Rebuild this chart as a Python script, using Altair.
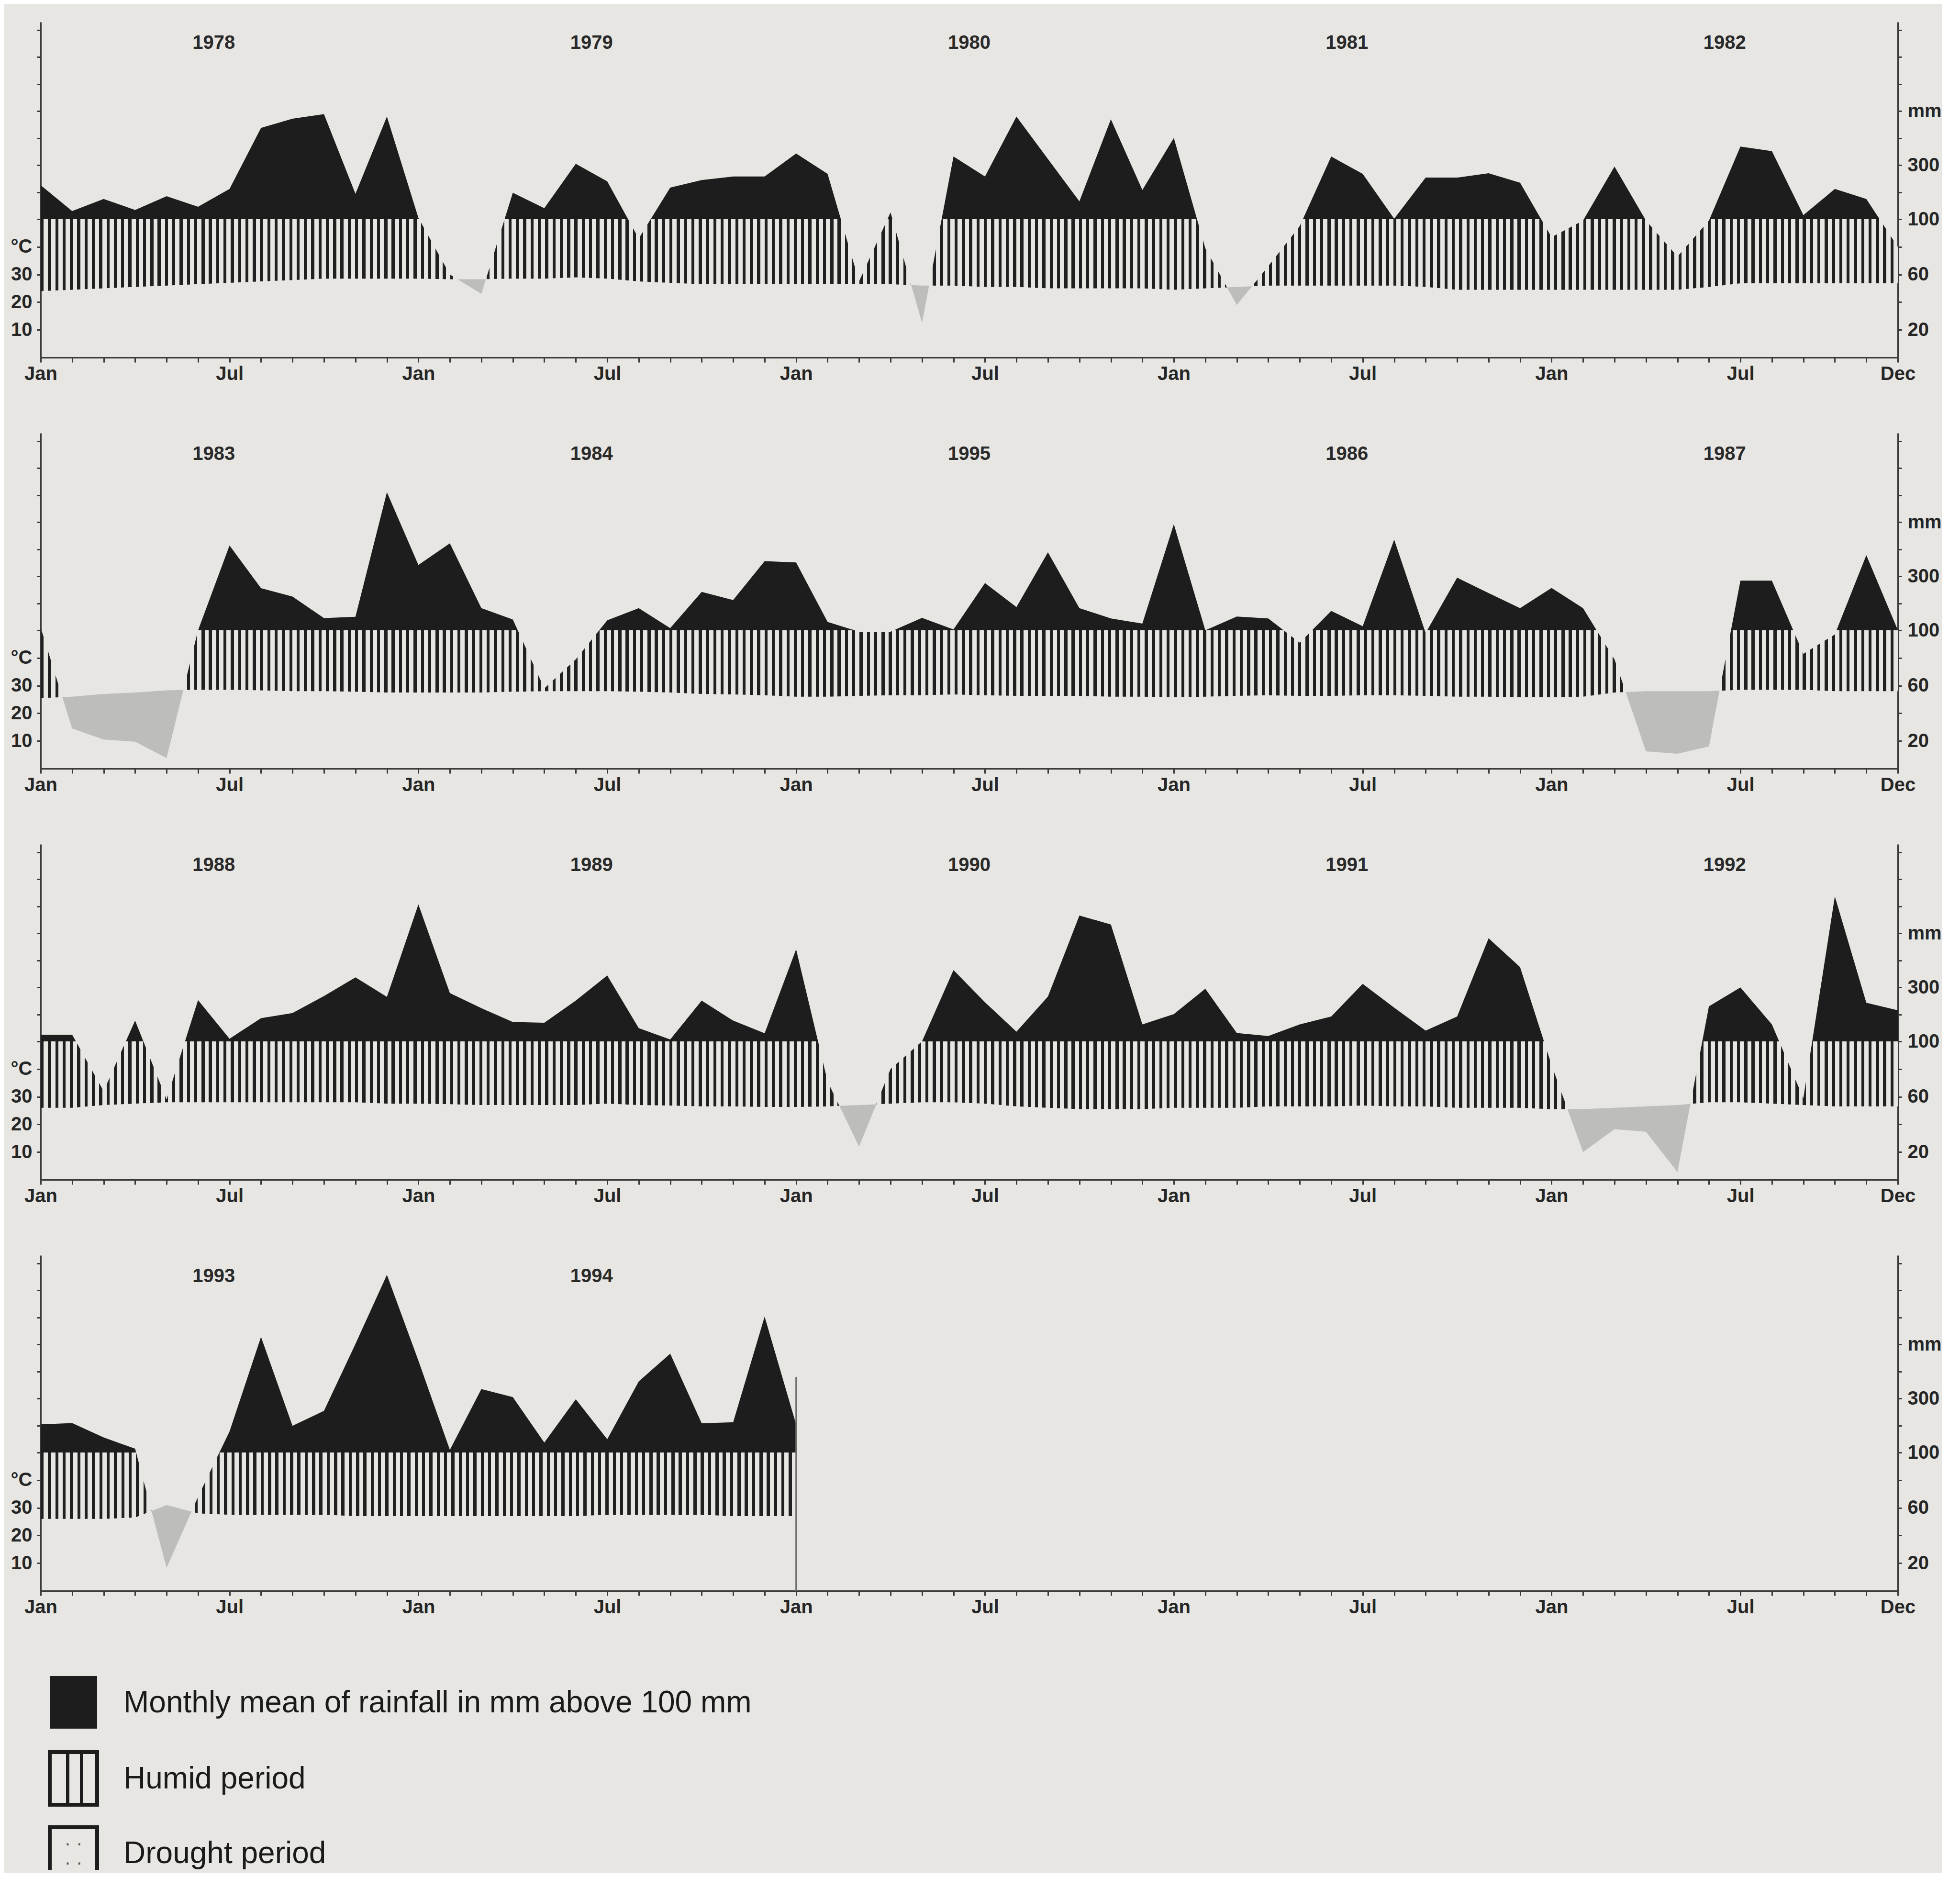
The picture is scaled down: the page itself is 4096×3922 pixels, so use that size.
import altair as alt
import pandas as pd

# ---------------- data ----------------
# monthly rainfall (mm) and monthly mean temperature (deg C), one list per 5-year panel
RAIN_1 = [226, 130, 175, 134, 185, 146, 212, 438, 472, 489, 194, 480,
          105, 60, 46, 198, 141, 305, 240, 86, 217, 245, 258, 258,
          343, 268, 55, 125, 25, 332, 258, 480, 323, 166, 470, 208,
          401, 79, 38, 66, 95, 332, 268, 102, 254, 254, 270, 235,
          87, 99, 295, 99, 73, 99, 369, 352, 115, 212, 175, 80]
TEMP_1 = [24, 24.5, 25, 25.5, 26, 26.5, 27, 27.5, 28, 28.5, 28.5, 28.5,
          28.5, 28.3, 28.3, 28.5, 28.5, 29, 28.5, 27.5, 27, 26.5, 26.5, 26.5,
          26.5, 26.5, 26.5, 26.5, 26, 26, 25.5, 25.5, 25, 25, 25, 25,
          24.5, 25, 25.5, 26, 26, 26, 26, 26, 25.5, 24.5, 24.5, 24.5,
          24.5, 24.5, 24.5, 24.5, 24.5, 25.5, 26.8, 26.8, 26.8, 26.8, 26.8, 26.8]

RAIN_2 = [110, 29, 21, 19.5, 7.6, 100, 414, 256, 225, 145, 150, 611,
          342, 422, 182, 140, 58, 79, 137, 182, 108, 242, 212, 356,
          351, 131, 99, 99, 146, 103, 275, 186, 389, 182, 144, 125,
          493, 100, 151, 144, 91, 172, 115, 436, 98, 295, 238, 182,
          257, 182, 79, 12.5, 10.7, 16, 284, 284, 83, 97, 378, 101]
TEMP_2 = [25.5, 26, 27, 27.5, 28.3, 28.5, 28.5, 28.3, 28, 28, 27.8, 27.5,
          27.5, 27.5, 27.5, 27.8, 28, 28, 28, 27.8, 27.5, 27, 26.8, 26.5,
          26, 26, 26.3, 26.5, 26.5, 26.8, 26.5, 26.3, 26.3, 26.3, 26, 26,
          25.8, 26, 26.3, 26.5, 26.3, 26.3, 26.5, 26.5, 26.3, 26, 26, 25.8,
          25.8, 26, 27.5, 28, 28, 28, 28.5, 28.5, 28.5, 28, 28, 28]

RAIN_3 = [125, 125, 64, 177, 58, 253, 110, 186, 205, 268, 337, 265,
          607, 279, 223, 172, 169, 251, 344, 149, 107, 251, 177, 130,
          441, 71, 24, 80, 100, 364, 245, 136, 266, 566, 533, 163,
          201, 295, 131, 120, 163, 192, 313, 225, 140, 192, 482, 375,
          83, 20, 36.5, 34.7, 5.5, 230, 300, 163, 59, 637, 243, 215]
TEMP_3 = [26, 26, 27, 27.5, 28, 28, 28, 28, 28, 28, 28, 27.5,
          27.5, 27.3, 27, 27, 27, 27, 27.5, 27, 26.8, 26.5, 26.5, 26.3,
          26.3, 26.5, 27, 27.5, 28, 28, 27.5, 26.5, 26, 25.5, 25.5, 25.5,
          26, 26, 26, 26.5, 26.5, 26.5, 26.8, 26.5, 26.5, 26, 26, 26,
          25.5, 25.5, 26, 26.5, 27, 28, 28, 27.5, 27, 26.5, 26.5, 26.5]

RAIN_4 = [204, 209, 156, 114, 16.5, 68, 178, 528, 199, 254, 502, 758,
          440, 110, 335, 305, 137, 297, 149, 363, 466, 208, 212, 603, 204]
TEMP_4 = [26, 26, 26, 26.5, 31, 28, 27.5, 27.5, 27.5, 27.5, 27, 27,
          27, 27, 27, 27, 27, 27, 27.5, 27.5, 27.5, 27.5, 27, 27, 27]

YEARS_1 = ["1978", "1979", "1980", "1981", "1982"]
YEARS_2 = ["1983", "1984", "1995", "1986", "1987"]
YEARS_3 = ["1988", "1989", "1990", "1991", "1992"]
YEARS_4 = ["1993", "1994"]

# end-of-record marker in the last panel: month index, from mm, to mm
END_MONTH = [24]
END_FROM_MM = [0]
END_TO_MM = [380]

LEGEND_LABELS = ["Monthly mean of rainfall in mm above 100 mm", "Humid period", "Drought period"]

# ---------------- styling / layout ----------------
PAPER = "#e7e6e2"
INK = "#1d1d1d"
DROUGHT = "#bdbdba"
FONT = "Liberation Sans"
W, H = 3881, 701
K = 5.12          # rainfall above 100 mm is compressed by this factor
TOP_MM = 830
STRIPES_PER_MONTH = 4.3
STRIPE_FRAC = 0.42


def disp(r):
    return r if r <= 100 else 100 + (r - 100) / K


def undisp(v):
    return v if v <= 100 else 100 + (v - 100) * K


TOPD = disp(TOP_MM)
yscale = alt.Scale(domain=[0, 100, TOP_MM], range=[H, H - H * 100 / TOPD, 0], nice=False, zero=False)
xscale = alt.Scale(domain=[0, 59], nice=False, zero=False)

TICKS = [20, 40, 60, 80, 100, 200, 300, 400, 500, 600, 700, 800]
left_axis = alt.Axis(orient="left", values=TICKS, title=None, grid=False, tickSize=8, labelPadding=10,
                     labelOverlap=False,
                     labelExpr="datum.value == 80 ? '°C' : (datum.value <= 60 ? '' + (datum.value / 2) : '')")
right_axis = alt.Axis(orient="right", values=TICKS, title=None, grid=False, tickSize=8, labelPadding=12,
                      labelOverlap=False,
                      labelExpr="datum.value == 500 ? 'mm' : (indexof([20, 60, 100, 300], datum.value) >= 0 ? '' + datum.value : '')")
x_axis = alt.Axis(values=list(range(60)), title=None, grid=False, tickSize=10, labelPadding=4,
                  labelFlush=False, labelOverlap=False,
                  labelExpr="datum.value == 59 ? 'Dec' : (datum.value % 12 == 0 ? 'Jan' : (datum.value % 6 == 0 ? 'Jul' : ''))")


def stripes(n, frac, dark, light):
    stops = []
    for k in range(n):
        a = k / n
        b = (k + frac) / n
        stops += [alt.GradientStop(color=light, offset=a), alt.GradientStop(color=dark, offset=a),
                  alt.GradientStop(color=dark, offset=b), alt.GradientStop(color=light, offset=b)]
    stops.append(alt.GradientStop(color=light, offset=1))
    return alt.LinearGradient(gradient="linear", x1=0, x2=1, y1=0, y2=0, stops=stops)


def build_rows(rain, temp):
    """Monthly points plus the points where the rainfall polyline meets the
    100 mm line or the temperature polyline (needed to clip the fills)."""
    pts = []
    n = len(rain)
    for i in range(n):
        a, t = disp(rain[i]), 2 * temp[i]
        pts.append((i, a, t))
        if i < n - 1:
            a1, t1 = disp(rain[i + 1]), 2 * temp[i + 1]
            fr = []
            for l0, l1 in ((100, 100), (t, t1)):
                g0, g1 = a - l0, a1 - l1
                if g0 * g1 < 0:
                    fr.append(g0 / (g0 - g1))
            for f in sorted(fr):
                pts.append((i + f, a + (a1 - a) * f, t + (t1 - t) * f))
    rows = []
    for m, a, t in pts:
        r = undisp(a)
        rows.append(dict(m=m, rain=r, t2=t, hundred=100,
                         bhi=max(r, 100), hhi=min(max(r, t), 100), dlo=min(r, t)))
    return pd.DataFrame(rows)


def panel(rain, temp, years, end_rule=False):
    df = build_rows(rain, temp)
    base = alt.Chart(df)
    X = alt.X("m:Q", scale=xscale, axis=x_axis)
    nstr = int(round((len(rain) - 1) * STRIPES_PER_MONTH))
    drought = base.mark_area(fill=DROUGHT, opacity=1).encode(
        x=X, y=alt.Y("dlo:Q", scale=yscale, axis=None), y2="t2:Q")
    humid = base.mark_area(fill=stripes(nstr, STRIPE_FRAC, "#202020", PAPER), opacity=1).encode(
        x=X, y=alt.Y("t2:Q", scale=yscale, axis=right_axis), y2="hhi:Q")
    black = base.mark_area(fill=INK, opacity=1).encode(
        x=X, y=alt.Y("hundred:Q", scale=yscale, axis=left_axis), y2="bhi:Q")
    ydf = pd.DataFrame({"year": years, "pos": [5.5 + 12 * k for k in range(len(years))]})
    ylab = alt.Chart(ydf).mark_text(font=FONT, fontSize=40, fontWeight="bold", color="#2a2a2a",
                                    baseline="middle", align="center").encode(
        x=alt.X("pos:Q", scale=xscale, axis=x_axis), y=alt.value(44), text="year:N")
    layers = [drought, humid, black, ylab]
    if end_rule:
        edf = pd.DataFrame({"m": END_MONTH, "lo": END_FROM_MM, "hi": END_TO_MM})
        rule = alt.Chart(edf).mark_rule(color="#6a6a6a", strokeWidth=3).encode(
            x=alt.X("m:Q", scale=xscale, axis=x_axis),
            y=alt.Y("lo:Q", scale=yscale, axis=None), y2="hi:Q")
        layers.append(rule)
    return alt.layer(*layers).resolve_axis(y="independent").properties(width=W, height=H)


p1 = panel(RAIN_1, TEMP_1, YEARS_1)
p2 = panel(RAIN_2, TEMP_2, YEARS_2)
p3 = panel(RAIN_3, TEMP_3, YEARS_3)
p4 = panel(RAIN_4, TEMP_4, YEARS_4, end_rule=True)

# ---------------- legend ----------------
leg = pd.DataFrame({"label": LEGEND_LABELS, "k": [0, 1, 2]})
BOX_X0, BOX_X1 = 19, 118
BOX_TOPS = [20, 179, 336]
BOX_H = 110
TEXT_X = 173
TEXT_Y = [77, 236, 392]

hatch_box = alt.LinearGradient(
    gradient="linear", x1=0, x2=1, y1=0, y2=0,
    stops=[alt.GradientStop(color=PAPER, offset=0), alt.GradientStop(color=PAPER, offset=0.34),
           alt.GradientStop(color=INK, offset=0.34), alt.GradientStop(color=INK, offset=0.41),
           alt.GradientStop(color=PAPER, offset=0.41), alt.GradientStop(color=PAPER, offset=0.64),
           alt.GradientStop(color=INK, offset=0.64), alt.GradientStop(color=INK, offset=0.71),
           alt.GradientStop(color=PAPER, offset=0.71), alt.GradientStop(color=PAPER, offset=1)])
box_styles = [dict(fill=INK), dict(fill=hatch_box, stroke=INK, strokeWidth=8),
              dict(fill=PAPER, stroke=INK, strokeWidth=8)]

legend_layers = []
for i in range(3):
    legend_layers.append(
        alt.Chart(leg).transform_filter(alt.datum.k == i).mark_rect(clip=True, **box_styles[i]).encode(
            x=alt.value(BOX_X0), x2=alt.value(BOX_X1),
            y=alt.value(BOX_TOPS[i]), y2=alt.value(BOX_TOPS[i] + BOX_H)))
    legend_layers.append(
        alt.Chart(leg).transform_filter(alt.datum.k == i).mark_text(
            font=FONT, fontSize=64, color="#1a1a1a", align="left", baseline="middle").encode(
            x=alt.value(TEXT_X), y=alt.value(TEXT_Y[i]), text="label:N"))
# dotted texture of the drought legend box
for dy in (35, 75):
    legend_layers.append(
        alt.Chart(leg).transform_filter(alt.datum.k == 2).mark_text(
            font=FONT, fontSize=40, color="#555555", align="center", baseline="middle").encode(
            x=alt.value((BOX_X0 + BOX_X1) / 2), y=alt.value(BOX_TOPS[2] + dy), text=alt.value("·      ·")))
legend = alt.layer(*legend_layers).properties(width=W, height=425)

chart = alt.vconcat(
    p1, p2, p3, p4, legend, spacing=158, bounds="flush",
    padding={"left": 14, "top": 34, "right": 0, "bottom": 0}, background=PAPER,
).configure_view(strokeWidth=0).configure_axis(
    labelFont=FONT, labelFontSize=40, labelFontWeight="bold", labelColor="#262626",
    domainColor="#3a3a3a", tickColor="#3a3a3a", domainWidth=3, tickWidth=3,
)

chart.save("out.html", embed_options={"renderer": "svg", "actions": False})
